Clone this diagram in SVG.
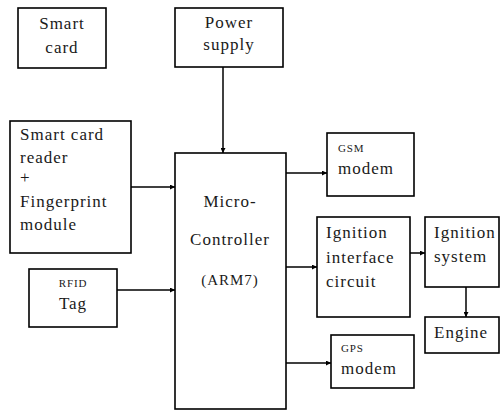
<svg xmlns="http://www.w3.org/2000/svg" width="501" height="412" viewBox="0 0 501 412">
<defs>
<marker id="ah" viewBox="0 0 10 10" refX="10" refY="5" markerWidth="5" markerHeight="5" markerUnits="userSpaceOnUse" orient="auto">
<path d="M0,0 L10,5 L0,10 z" fill="#000"/>
</marker>
<style>
rect{fill:#fff;stroke:#000;stroke-width:1.6}
text{font-size:17px;fill:#1a1a1a;letter-spacing:1px}
.c{text-anchor:middle}
.s{font-size:11px;letter-spacing:0.8px}
.m{font-size:15px}
#connectors line{stroke:#000;stroke-width:1.5;marker-end:url(#ah)}
</style>
</defs>
<rect x="0" y="0" width="501" height="412" style="fill:#fff;stroke:none"/>
<g font-family="'Liberation Serif', 'DejaVu Serif', serif">
<g id="smartcard"><rect x="18" y="8" width="88" height="60"/><text class="c" x="62" y="29">Smart</text><text class="c" x="62" y="53">card</text></g>
<g id="power"><rect x="175" y="8" width="108" height="59"/><text class="c" x="229" y="28">Power</text><text class="c" x="229" y="50">supply</text></g>
<g id="reader"><rect x="10" y="121" width="121" height="132"/><text x="20" y="140">Smart card</text><text x="20" y="163">reader</text><text x="20" y="183">+</text><text x="20" y="207">Fingerprint</text><text x="20" y="230">module</text></g>
<g id="rfid"><rect x="29" y="269" width="88" height="58"/><text class="c s" x="73" y="287">RFID</text><text class="c" x="73" y="309">Tag</text></g>
<g id="controller"><rect x="175" y="153" width="111" height="256"/><text class="c" x="230" y="207">Micro-</text><text class="c" x="230" y="245">Controller</text><text class="c m" x="230" y="285">(ARM7)</text></g>
<g id="gsm"><rect x="327" y="133" width="87" height="63"/><text class="s" x="338" y="152">GSM</text><text x="338" y="174">modem</text></g>
<g id="ignif"><rect x="317" y="217" width="93" height="100"/><text x="326" y="238">Ignition</text><text x="326" y="263">interface</text><text x="326" y="287">circuit</text></g>
<g id="ignsys"><rect x="425" y="217" width="74" height="70"/><text x="434" y="238">Ignition</text><text x="434" y="262">system</text></g>
<g id="engine"><rect x="425" y="317" width="74" height="36"/><text x="434" y="338">Engine</text></g>
<g id="gps"><rect x="331" y="335" width="83" height="53"/><text class="s" x="341" y="352">GPS</text><text x="341" y="374">modem</text></g>
</g>
<g id="connectors">
<line x1="223" y1="67" x2="223" y2="153"/>
<line x1="131" y1="187" x2="175" y2="187"/>
<line x1="117" y1="290" x2="175" y2="290"/>
<line x1="286" y1="173" x2="327" y2="173"/>
<line x1="286" y1="267" x2="317" y2="267"/>
<line x1="286" y1="363" x2="331" y2="363"/>
<line x1="410" y1="253" x2="425" y2="253"/>
<line x1="466" y1="287" x2="466" y2="317"/>
</g>
</svg>
